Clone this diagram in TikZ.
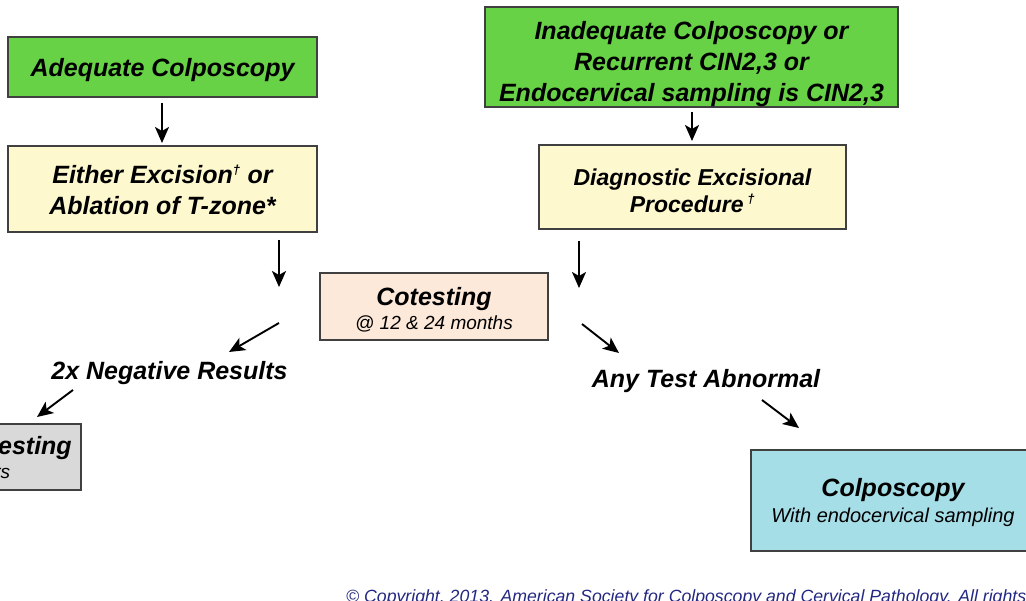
\documentclass[tikz,border=0pt]{standalone}
\usepackage{fontspec}
\setmainfont{Liberation Sans}
\usetikzlibrary{arrows.meta}
\definecolor{boxgreen}{RGB}{104,210,70}
\definecolor{boxyellow}{RGB}{254,248,206}
\definecolor{boxpeach}{RGB}{253,233,217}
\definecolor{boxgray}{RGB}{217,217,217}
\definecolor{boxblue}{RGB}{166,222,232}
\definecolor{copyblue}{RGB}{36,40,130}
\begin{document}
\begin{tikzpicture}[x=1pt,y=-1pt,
  box/.style={draw=black!75, line width=1.2pt, align=center, inner sep=0pt,
    font=\bfseries\itshape\fontsize{25}{31}\selectfont},
  subbox/.style={draw=black!75, line width=1.2pt, align=center, inner sep=0pt,
    font=\itshape\fontsize{19}{24}\selectfont},
  lbl/.style={inner sep=0pt, font=\bfseries\itshape\fontsize{25}{31}\selectfont},
  arr/.style={line width=1.9pt, -{Stealth[length=16pt,width=14pt,inset=4pt]}}]
\useasboundingbox (0,0) rectangle (1026,601);
\clip (0,0) rectangle (1026,601);

% boxes
\node[box, fill=boxgreen, minimum width=309pt, minimum height=60pt] (adeq) at (162.5,67) {\rule{0pt}{24pt}Adequate Colposcopy};
\node[box, fill=boxyellow, minimum width=309pt, minimum height=86pt] (either) at (162.5,189) {\rule{0pt}{20pt}Either Excision\textsuperscript{\fontsize{13}{13}\selectfont †} or\\Ablation of T-zone*};
\node[box, fill=boxgreen, minimum width=413pt, minimum height=100pt] (inad) at (691.5,57) {\rule{0pt}{32pt}Inadequate Colposcopy or\\Recurrent CIN2,3 or\\Endocervical sampling is CIN2,3};
\node[box, fill=boxyellow, minimum width=307pt, minimum height=84pt, font=\bfseries\itshape\fontsize{23}{27}\selectfont] (diag) at (692.5,187) {\rule{0pt}{24pt}Diagnostic Excisional\\Procedure\,\textsuperscript{\fontsize{13}{13}\selectfont †}};
\node[subbox, fill=boxpeach, minimum width=228pt, minimum height=67pt] (cot) at (434,306.5) {{\bfseries\fontsize{25}{25}\selectfont\rule{0pt}{25pt}Cotesting}\\{@ 12 \& 24 months}};
\node[subbox, fill=boxgray, minimum width=224pt, minimum height=66pt] (rep) at (-31,457) {{\bfseries\fontsize{25}{25}\selectfont\rule{0pt}{22pt}Repeat Cotesting}\\{in 3 years}};
\node[subbox, fill=boxblue, minimum width=284pt, minimum height=101pt, font=\itshape\fontsize{20}{26}\selectfont] (colp) at (893,500.5) {{\bfseries\fontsize{25}{25}\selectfont\rule{0pt}{22pt}Colposcopy}\\{With endocervical sampling}};

% labels
\node[lbl] (neg) at (169.5,373.5) {2x Negative Results};
\node[lbl] (abn) at (706,381.5) {Any Test Abnormal};
\node[anchor=base west, inner sep=0pt, text=copyblue, font=\itshape\fontsize{17.7}{20}\selectfont] (copy) at (346,602) {© Copyright, 2013. American Society for Colposcopy and Cervical Pathology. All rights reserved.};

% arrow end points
\coordinate (a1s) at (162,103); \coordinate (a1e) at (162,143);
\coordinate (a2s) at (692,112); \coordinate (a2e) at (692,141);
\coordinate (a3s) at (279,240); \coordinate (a3e) at (279,287);
\coordinate (a4s) at (579,241); \coordinate (a4e) at (579,288);
\coordinate (a5s) at (279,323); \coordinate (a5e) at (229,352);
\coordinate (a6s) at (73,390);  \coordinate (a6e) at (37,417);
\coordinate (a7s) at (582,324); \coordinate (a7e) at (619,353);
\coordinate (a8s) at (762,400); \coordinate (a8e) at (799,428);

\draw[arr] (a1s) -- (a1e);
\draw[arr] (a2s) -- (a2e);
\draw[arr] (a3s) -- (a3e);
\draw[arr] (a4s) -- (a4e);
\draw[arr] (a5s) -- (a5e);
\draw[arr] (a6s) -- (a6e);
\draw[arr] (a7s) -- (a7e);
\draw[arr] (a8s) -- (a8e);
\end{tikzpicture}
\end{document}
